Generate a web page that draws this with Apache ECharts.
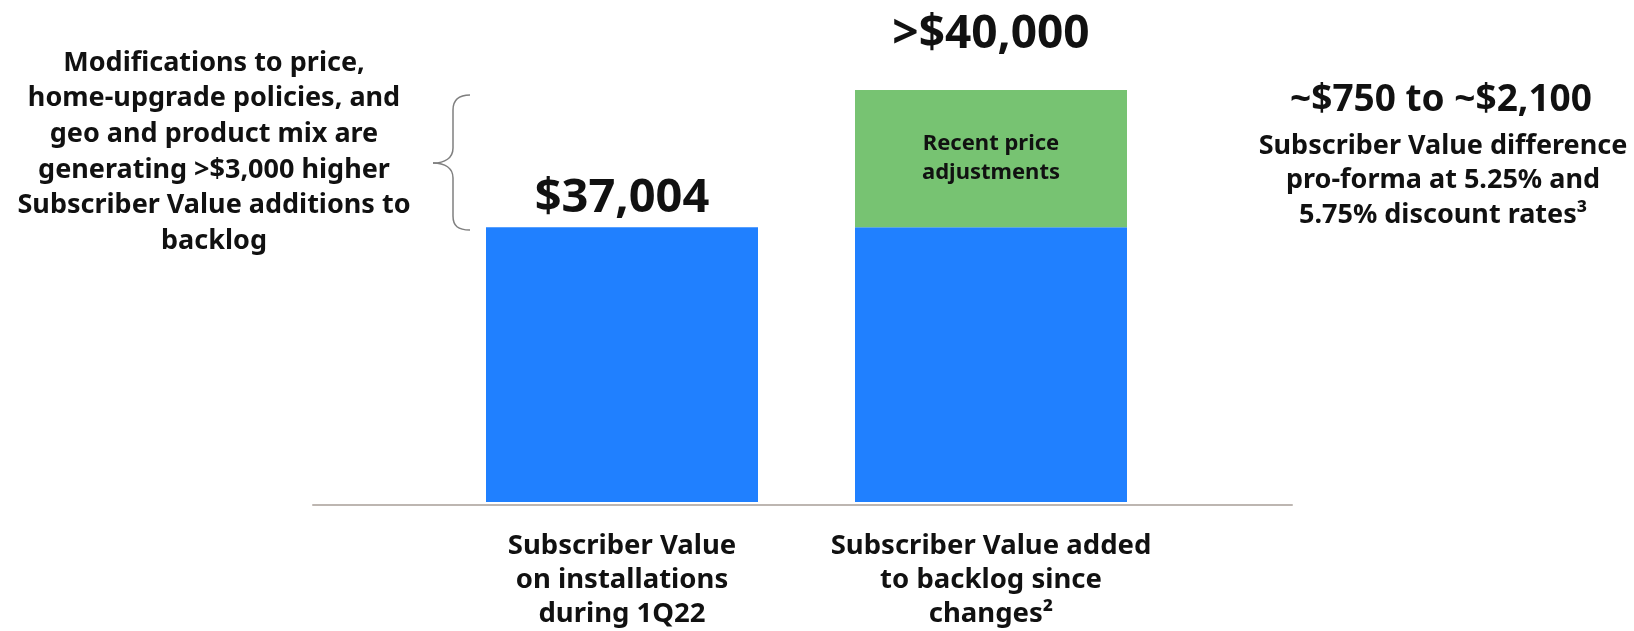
<!DOCTYPE html>
<html>
<head>
<meta charset="utf-8">
<script src="https://cdn.jsdelivr.net/npm/echarts@6/dist/echarts.min.js"></script>
<style>
  html, body { margin: 0; padding: 0; background: #fff; }
  #chart { width: 1634px; height: 631px; }
</style>
</head>
<body>
<div id="chart"></div>
<script>
const categories = [
  "Subscriber Value\non installations\nduring 1Q22",
  "Subscriber Value added\nto backlog since\nchanges\u00b2",
];
const baseValues = [37004, 37004];
const priceAdjValues = ["-", 2996];
const topLabels = ["$37,004", ">$40,000"];
const leftNote =
  "Modifications to price,\nhome-upgrade policies, and\ngeo and product mix are\ngenerating >$3,000 higher\nSubscriber Value additions to\nbacklog";
const rightTitle = "~$750 to ~$2,100";
const rightNote =
  "Subscriber Value difference\npro-forma at 5.25% and\n5.75% discount rates\u00b3";

const FONT = "'Noto Sans', sans-serif";
const chart = echarts.init(document.getElementById("chart"));

// curly brace next to the left note
const braceStyle = { fill: "none", stroke: "#7f7f7f", lineWidth: 1.5 };
const brace = [
  { type: "bezierCurve", shape: { x1: 470, y1: 95, cpx1: 458, cpy1: 95, cpx2: 453, cpy2: 100, x2: 453, y2: 110 } },
  { type: "line", shape: { x1: 453, y1: 110, x2: 453, y2: 148 } },
  { type: "bezierCurve", shape: { x1: 453, y1: 148, cpx1: 453, cpy1: 158, cpx2: 445, cpy2: 163, x2: 433, y2: 163 } },
  { type: "bezierCurve", shape: { x1: 433, y1: 163, cpx1: 445, cpy1: 163, cpx2: 453, cpy2: 168, x2: 453, y2: 178 } },
  { type: "line", shape: { x1: 453, y1: 178, x2: 453, y2: 216 } },
  { type: "bezierCurve", shape: { x1: 453, y1: 216, cpx1: 453, cpy1: 226, cpx2: 458, cpy2: 230, x2: 470, y2: 230 } },
].map((el) => Object.assign(el, { style: braceStyle }));

chart.setOption({
  backgroundColor: "#fff",
  textStyle: { fontFamily: FONT },
  grid: [
    // bars
    { left: 437.5, right: 458.5, top: 90, bottom: 126 },
    // wide baseline
    { left: 313, right: 342, top: 90, bottom: 126 },
  ],
  xAxis: [
    {
      type: "category",
      gridIndex: 0,
      data: categories,
      axisLine: { show: false },
      axisTick: { show: false },
      axisLabel: {
        interval: 0,
        hideOverlap: false,
        margin: 27,
        color: "#111",
        fontFamily: FONT,
        fontWeight: "bold",
        fontSize: 27.5,
        lineHeight: 34,
      },
    },
    {
      type: "value",
      gridIndex: 1,
      axisLine: { show: true, lineStyle: { color: "#bdb6b1", width: 2 } },
      axisTick: { show: false },
      axisLabel: { show: false },
      splitLine: { show: false },
    },
  ],
  yAxis: [
    { type: "value", gridIndex: 0, min: 31000, max: 40000, show: false },
    { type: "value", gridIndex: 1, show: false },
  ],
  series: [
    {
      name: "Subscriber Value",
      type: "bar",
      stack: "sv",
      barWidth: 272,
      itemStyle: { color: "#2080ff" },
      data: baseValues.map((v, i) => ({
        value: v,
        label: {
          show: i === 0,
          position: "top",
          distance: 5,
          formatter: topLabels[0],
          color: "#111",
          fontFamily: FONT,
          fontWeight: "bold",
          fontSize: 47,
        },
      })),
    },
    {
      name: "Recent price adjustments",
      type: "bar",
      stack: "sv",
      barWidth: 272,
      itemStyle: { color: "#77c372" },
      label: {
        show: true,
        position: "inside",
        formatter: "Recent price\nadjustments",
        color: "#111",
        fontFamily: FONT,
        fontWeight: "bold",
        fontSize: 22,
        lineHeight: 29,
      },
      markPoint: {
        symbol: "circle",
        symbolSize: 0,
        data: [
          {
            coord: [1, baseValues[1] + priceAdjValues[1]],
            label: {
              show: true,
              position: "top",
              distance: 32,
              formatter: topLabels[1],
              color: "#111",
              fontFamily: FONT,
              fontWeight: "bold",
              fontSize: 46,
            },
          },
        ],
      },
      data: priceAdjValues,
    },
  ],
  graphic: [
    {
      type: "text",
      x: 214,
      y: 45,
      style: {
        text: leftNote,
        align: "center",
        verticalAlign: "top",
        fill: "#111",
        font: "bold 27px " + FONT,
        lineHeight: 35.7,
      },
    },
    ...brace,
    {
      type: "text",
      x: 1441,
      y: 100,
      style: {
        text: rightTitle,
        align: "center",
        verticalAlign: "middle",
        fill: "#111",
        font: "bold 37px " + FONT,
      },
    },
    {
      type: "text",
      x: 1443,
      y: 129,
      style: {
        text: rightNote,
        align: "center",
        verticalAlign: "top",
        fill: "#111",
        font: "bold 27px " + FONT,
        lineHeight: 34.5,
      },
    },
  ],
});
</script>
</body>
</html>
